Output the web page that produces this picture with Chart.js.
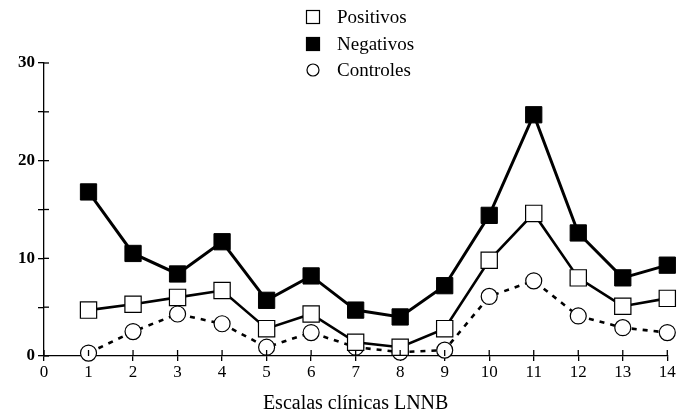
<!DOCTYPE html>
<html>
<head>
<meta charset="utf-8">
<style>
  html, body { margin: 0; padding: 0; background: #fff; }
  #wrap { width: 680px; height: 419px; }
</style>
<script src="https://cdn.jsdelivr.net/npm/chart.js@4/dist/chart.umd.min.js"></script>
</head>
<body>
<div id="wrap"><canvas id="c" width="680" height="419"></canvas></div>
<script>
// Clinical scale numbers (x) and mean scores per group
const escalas = [1, 2, 3, 4, 5, 6, 7, 8, 9, 10, 11, 12, 13, 14];
const positivos = [4.7, 5.3, 6.0, 6.7, 2.8, 4.3, 1.4, 0.9, 2.8, 9.8, 14.6, 8.0, 5.1, 5.9];
const negativos = [16.8, 10.5, 8.4, 11.7, 5.7, 8.2, 4.7, 4.0, 7.2, 14.4, 24.7, 12.6, 8.0, 9.3];
const controles = [0.3, 2.5, 4.3, 3.3, 0.9, 2.4, 0.9, 0.4, 0.6, 6.1, 7.7, 4.1, 2.9, 2.4];
const yLabeled = [0, 10, 20, 30];

const SERIF = '"Liberation Serif", "DejaVu Serif", serif';

const toPoints = vals => escalas.map((x, i) => ({ x: x, y: vals[i] }));

// Ticks that cross the axis lines (inner half drawn here)
const crossTicks = {
  id: 'crossTicks',
  afterDatasetsDraw(chart) {
    const { ctx, chartArea, scales } = chart;
    ctx.save();
    ctx.strokeStyle = '#000';
    ctx.lineWidth = 1.3;
    scales.x.ticks.forEach(t => {
      const px = scales.x.getPixelForValue(t.value);
      ctx.beginPath();
      ctx.moveTo(px, chartArea.bottom);
      ctx.lineTo(px, chartArea.bottom - 6);
      ctx.stroke();
    });
    scales.y.ticks.forEach(t => {
      const py = scales.y.getPixelForValue(t.value);
      ctx.beginPath();
      ctx.moveTo(chartArea.left, py);
      ctx.lineTo(chartArea.left + 5, py);
      ctx.stroke();
    });
    ctx.restore();
  }
};

// Vertical legend at the top centre
const stackedLegend = {
  id: 'stackedLegend',
  afterDraw(chart) {
    const { ctx } = chart;
    const symX = 313, textX = 337, rows = [17, 44, 70];
    ctx.save();
    ctx.font = '19px ' + SERIF;
    ctx.fillStyle = '#000';
    ctx.textBaseline = 'middle';
    ctx.textAlign = 'left';
    chart.data.datasets.forEach((ds, i) => {
      const y = rows[i];
      ctx.lineWidth = 1.2;
      ctx.strokeStyle = '#000';
      if (ds.pointStyle === 'circle') {
        ctx.beginPath();
        ctx.arc(symX, y, 6, 0, Math.PI * 2);
        ctx.fillStyle = '#fff';
        ctx.fill();
        ctx.stroke();
      } else {
        ctx.fillStyle = ds.pointBackgroundColor;
        ctx.fillRect(symX - 6.5, y - 6.5, 13, 13);
        ctx.strokeRect(symX - 6.5, y - 6.5, 13, 13);
      }
      ctx.fillStyle = '#000';
      ctx.fillText(ds.label, textX, y + 1);
    });
    ctx.restore();
  }
};

new Chart(document.getElementById('c'), {
  type: 'line',
  data: {
    datasets: [
      {
        label: 'Positivos',
        data: toPoints(positivos),
        borderColor: '#000',
        borderWidth: 2.6,
        pointStyle: 'rect',
        pointRadius: 11.5,
        pointBackgroundColor: '#fff',
        pointBorderColor: '#000',
        pointBorderWidth: 1.2,
        clip: false,
        order: 2
      },
      {
        label: 'Negativos',
        data: toPoints(negativos),
        borderColor: '#000',
        borderWidth: 3,
        pointStyle: 'rect',
        pointRadius: 11.5,
        pointBackgroundColor: '#000',
        pointBorderColor: '#000',
        pointBorderWidth: 1,
        clip: false,
        order: 1
      },
      {
        label: 'Controles',
        data: toPoints(controles),
        borderColor: '#000',
        borderWidth: 2.6,
        borderDash: [5, 6],
        pointStyle: 'circle',
        pointRadius: 8,
        pointBackgroundColor: '#fff',
        pointBorderColor: '#000',
        pointBorderWidth: 1.2,
        clip: false,
        order: 3
      }
    ]
  },
  options: {
    responsive: false,
    animation: false,
    events: [],
    layout: { padding: { top: 63, right: 7, left: 0, bottom: 0 } },
    plugins: {
      legend: { display: false },
      tooltip: { enabled: false }
    },
    scales: {
      x: {
        type: 'linear',
        min: 0,
        max: 14,
        border: { display: true, color: '#000', width: 1.3 },
        grid: { drawOnChartArea: false, drawTicks: true, tickLength: 5, color: '#000', lineWidth: 1.3 },
        ticks: {
          stepSize: 1,
          padding: 1,
          color: '#000',
          font: { family: SERIF, size: 17 },
          maxRotation: 0,
          autoSkip: false
        },
        title: {
          display: true,
          text: 'Escalas clínicas LNNB',
          color: '#000',
          font: { family: SERIF, size: 20 },
          padding: { top: 2, bottom: 3 }
        },
        afterFit(scale) {
          scale.height = 63;
          scale.paddingLeft = 0;
          scale.paddingRight = 0;
        }
      },
      y: {
        min: 0,
        max: 30,
        border: { display: true, color: '#000', width: 1.3 },
        grid: { drawOnChartArea: false, drawTicks: true, tickLength: 6, color: '#000', lineWidth: 1.3 },
        ticks: {
          stepSize: 5,
          padding: 3,
          color: '#000',
          font: { family: SERIF, size: 17, weight: 'bold' },
          callback: v => (yLabeled.includes(v) ? String(v) : '')
        },
        afterFit(scale) {
          scale.width = 44;
        }
      }
    }
  },
  plugins: [crossTicks, stackedLegend]
});
</script>
</body>
</html>
